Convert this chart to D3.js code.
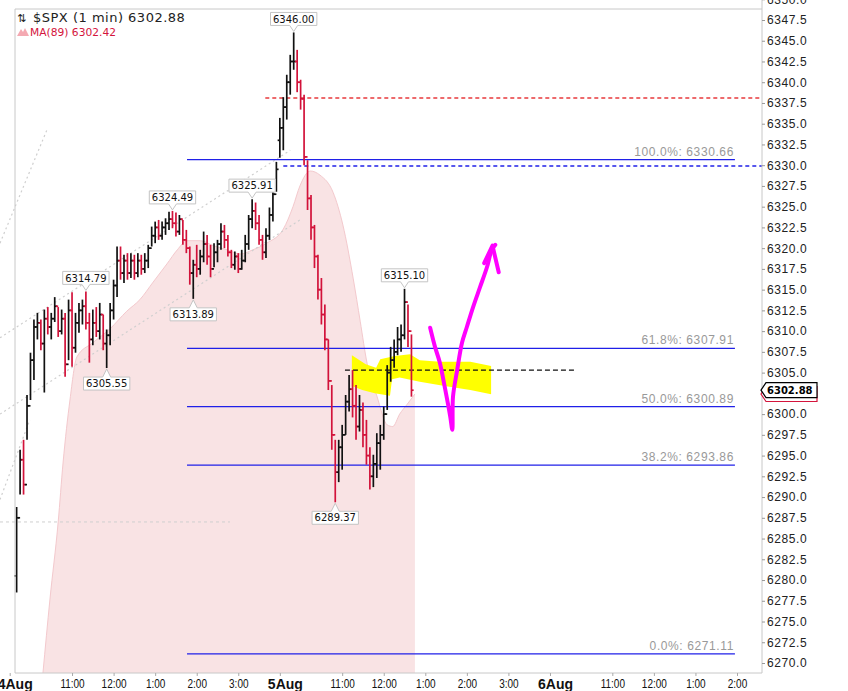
<!DOCTYPE html>
<html>
<head>
<meta charset="utf-8">
<script src="https://d3js.org/d3.v7.min.js"></script>
<style>
body { margin: 0; background: #fff; }
svg { display: block; font-family: "Liberation Sans", Arial, sans-serif; }
.ylab { font-size: 12px; letter-spacing: 0.6px; fill: #222; }
.fib-label { font-size: 12px; letter-spacing: 0.6px; fill: #999; text-anchor: end; }
.hl-label { font-family: "DejaVu Sans", sans-serif; font-size: 10px; fill: #111; text-anchor: middle; }
</style>
</head>
<body>
<script>
// time = trading minutes after 9:30 on 4 Aug (390 per session), 5 minute bars
var day1Start = 10, day2Start = 390, barStep = 5;
var dayOpen = [6280.5, 6333.0];

var day1High = [6288.8, 6295.7, 6296.9, 6302.3, 6307.4, 6311.4, 6312.2, 6311.4, 6312.6, 6312.9,
  6312.2, 6314.1, 6312.9, 6312.6, 6312.2, 6313.8, 6314.7, 6312.2, 6313.4, 6313.8,
  6314.79, 6312.2, 6312.6, 6312.9, 6313.4, 6312.0, 6310.2, 6313.4, 6316.2, 6320.2,
  6320.2, 6319.2, 6319.4, 6319.4, 6319.2, 6319.4, 6319.2, 6319.4, 6320.4, 6322.6,
  6323.2, 6323.4, 6323.2, 6323.6, 6324.4, 6324.49, 6324.3, 6324.0, 6323.4, 6322.2,
  6320.2, 6318.6, 6320.4, 6319.8, 6322.0, 6321.6, 6320.4, 6320.6, 6321.0, 6323.0,
  6322.8, 6321.6, 6319.8, 6319.6, 6319.4, 6319.8, 6321.6, 6324.0, 6325.91, 6325.5,
  6324.0, 6321.6, 6322.4, 6324.9, 6327.6, 6330.4];
var day1Low = [6278.5, 6290.3, 6290.3, 6296.9, 6301.7, 6304.1, 6309.0, 6307.7, 6302.6, 6309.6,
  6309.0, 6311.1, 6309.3, 6309.6, 6304.5, 6306.5, 6305.7, 6307.4, 6309.8, 6310.8,
  6310.2, 6306.2, 6308.3, 6309.3, 6309.0, 6307.7, 6305.55, 6308.3, 6311.4, 6314.1,
  6316.2, 6315.8, 6316.2, 6316.4, 6316.2, 6316.5, 6316.8, 6317.0, 6317.6, 6320.2,
  6320.6, 6321.0, 6321.0, 6321.6, 6322.2, 6322.4, 6321.4, 6321.6, 6320.4, 6319.4,
  6315.6, 6313.89, 6316.5, 6316.8, 6318.3, 6318.0, 6316.5, 6317.7, 6318.3, 6319.8,
  6320.0, 6319.0, 6317.6, 6317.4, 6317.0, 6317.4, 6318.3, 6319.8, 6322.4, 6322.2,
  6320.4, 6318.6, 6318.8, 6321.0, 6323.2, 6326.8];
var day1Close = [6287.5, 6294.5, 6291.5, 6301.0, 6306.5, 6310.5, 6311.0, 6308.5, 6311.5, 6310.5,
  6311.5, 6313.0, 6310.0, 6311.5, 6306.0, 6312.5, 6308.0, 6311.0, 6312.5, 6313.0,
  6311.0, 6309.0, 6311.0, 6310.0, 6312.0, 6308.5, 6309.5, 6312.5, 6315.5, 6318.5,
  6317.0, 6318.5, 6317.0, 6318.5, 6317.0, 6318.5, 6317.5, 6318.5, 6320.0, 6321.5,
  6322.5, 6321.5, 6322.5, 6323.0, 6323.5, 6323.0, 6322.0, 6323.5, 6321.0, 6320.0,
  6317.0, 6318.0, 6317.5, 6319.0, 6320.5, 6319.0, 6317.5, 6319.5, 6320.5, 6322.0,
  6321.0, 6319.5, 6318.0, 6319.0, 6317.5, 6318.5, 6320.5, 6323.5, 6324.5, 6323.0,
  6321.0, 6319.5, 6321.5, 6324.0, 6326.5, 6329.5];

var day2High = [6335.7, 6338.2, 6340.9, 6343.3, 6346.00, 6343.9, 6340.3, 6338.5, 6330.6, 6326.4,
  6322.8, 6319.2, 6316.4, 6313.2, 6309.0, 6303.5, 6296.9, 6296.9, 6298.7, 6302.3,
  6304.7, 6305.3, 6303.5, 6302.3, 6301.4, 6299.3, 6296.0, 6295.1, 6297.7, 6298.7,
  6300.9, 6305.9, 6308.1, 6309.0, 6310.5, 6310.8, 6315.10, 6313.2, 6309.6];
var day2Low = [6330.9, 6331.8, 6335.5, 6338.5, 6341.5, 6338.8, 6336.7, 6330.0, 6324.6, 6321.0,
  6317.6, 6313.8, 6310.8, 6307.7, 6302.9, 6295.7, 6289.37, 6291.8, 6293.3, 6297.5,
  6300.3, 6299.6, 6296.9, 6297.9, 6296.0, 6293.9, 6290.9, 6291.2, 6292.3, 6293.3,
  6296.9, 6300.5, 6303.9, 6305.6, 6307.1, 6307.5, 6309.0, 6308.1, 6302.1];
var day2Close = [6334.5, 6337.0, 6340.0, 6342.5, 6342.5, 6340.0, 6338.0, 6331.0, 6326.0, 6322.5,
  6319.0, 6315.0, 6312.0, 6309.0, 6304.0, 6297.5, 6293.0, 6296.0, 6297.5, 6301.5,
  6303.0, 6301.0, 6298.5, 6300.5, 6297.5, 6295.0, 6292.5, 6294.0, 6296.5, 6297.5,
  6300.0, 6305.0, 6306.5, 6307.5, 6309.0, 6309.5, 6313.5, 6310.0, 6302.88];

// MA(89)
var maTimes = [48, 58, 70, 77, 87, 97, 120, 145, 169, 188, 207, 227, 242, 256, 275, 294, 314, 333,
  351, 371, 395, 409, 419, 434, 448, 467, 481, 496, 506, 516, 530, 545, 553, 563, 574, 585];
var maValues = [6268.8, 6277.6, 6287.0, 6294.1, 6301.7, 6306.9, 6308.6, 6310.3, 6312.4, 6313.8,
  6315.9, 6318.1, 6319.8, 6320.9, 6320.9, 6320.3, 6319.8, 6319.3, 6319.8, 6320.6, 6322.3, 6325.0,
  6327.5, 6329.3, 6328.8, 6326.7, 6322.8, 6316.3, 6311.2, 6306.1, 6302.2, 6298.7, 6298.5, 6300.0,
  6301.2, 6302.42];

var fibNames = ["100.0%", "61.8%", "50.0%", "38.2%", "0.0%"];
var fibValues = [6330.66, 6307.91, 6300.89, 6293.86, 6271.11];
var fibFrom = 256, fibTo = 1047;

var peakTimes = [110, 140, 235, 265, 350, 410, 470, 570];
var peakPrices = [6314.79, 6305.55, 6324.49, 6313.89, 6325.91, 6346.00, 6289.37, 6315.10];
var peakSide = ["high", "low", "high", "low", "high", "high", "low", "high"];

var xTickTimes = [0, 90, 150, 210, 270, 330, 390, 480, 540, 600, 660, 720, 780, 870, 930, 990, 1050];
var xTickLabels = ["4Aug", "11:00", "12:00", "1:00", "2:00", "3:00", "5Aug", "11:00", "12:00", "1:00",
  "2:00", "3:00", "6Aug", "11:00", "12:00", "1:00", "2:00"];

// hand drawn annotations, in [time, price]
var dottedLines = [[[-14, 6320.6], [54, 6334.3]], [[-14, 6309.2], [405, 6331.8]],
  [[-14, 6300.0], [419, 6323.4]], [[-14, 6289.7], [29, 6299.3]]];
var grayDash = [[-14, 6287.0], [318, 6287.0]];
var redDash = [[369, 6338.1], [1090, 6338.1]];
var blueDash = [[395, 6329.9], [1090, 6329.9]];
var blackDash = [[484, 6305.3], [816, 6305.3]];
var highlightT = [494, 514, 529, 535, 556, 578, 592, 621, 665, 695, 695, 665, 628, 592, 563, 552, 549, 527, 509, 494];
var highlightP = [6307.1, 6306.0, 6305.6, 6306.6, 6307.0, 6307.2, 6306.5, 6306.3, 6306.3, 6305.8,
  6302.4, 6302.9, 6303.4, 6303.9, 6304.4, 6304.2, 6302.2, 6302.5, 6302.9, 6303.4];
var magentaT = [607, 614, 621, 628, 636, 639, 640, 646, 653, 660, 669, 679, 689, 696, 701];
var magentaP = [6310.4, 6308.1, 6306.2, 6303.3, 6299.7, 6298.1, 6302.1, 6305.3, 6308.6, 6310.5,
  6312.9, 6315.3, 6317.7, 6319.8, 6320.4];
var arrowT = [685, 697, 706];
var arrowP = [6318.2, 6320.3, 6317.1];

var lastPrice = 6302.88, lastMA = 6302.42;

var W = 848, H = 691;
var plotLeft = 15, plotRight = 762, plotTop = 9, plotBottom = 673;

var x = d3.scaleLinear().domain([0, 1050]).range([9.7, 737]);
var y = d3.scaleLinear().domain([6270, 6347.5]).range([663, 20]);

var svg = d3.select("body").append("svg").attr("width", W).attr("height", H);

svg.append("clipPath").attr("id", "plot")
  .append("rect").attr("x", 0).attr("y", plotTop)
  .attr("width", plotRight).attr("height", plotBottom - plotTop);

var plot = svg.append("g").attr("clip-path", "url(#plot)");

// MA area
var maData = maTimes.map(function(t, i) { return [t, maValues[i]]; });
plot.append("path").datum(maData)
  .attr("d", d3.area().curve(d3.curveMonotoneX)
    .x(function(d) { return x(d[0]); }).y0(plotBottom).y1(function(d) { return y(d[1]); }))
  .attr("fill", "#f9e3e4");
plot.append("path").datum(maData)
  .attr("d", d3.line().curve(d3.curveMonotoneX)
    .x(function(d) { return x(d[0]); }).y(function(d) { return y(d[1]); }))
  .attr("fill", "none").attr("stroke", "#f3c9cd").attr("stroke-width", 1);

var seg = d3.line().x(function(d) { return x(d[0]); }).y(function(d) { return y(d[1]); });

// trend lines
plot.selectAll("path.dot").data(dottedLines).join("path").attr("class", "dot")
  .attr("d", seg).attr("stroke", "#cfcfcf").attr("stroke-width", 1.2)
  .attr("stroke-dasharray", "2,3").attr("fill", "none");
plot.append("path").attr("d", seg(grayDash)).attr("stroke", "#cfcfcf")
  .attr("stroke-dasharray", "3,3").attr("fill", "none");

// yellow marker
plot.append("path")
  .attr("d", seg(highlightT.map(function(t, i) { return [t, highlightP[i]]; })) + "Z")
  .attr("fill", "#ffff00");

// fib lines
fibValues.forEach(function(v, i) {
  plot.append("line").attr("x1", x(fibFrom)).attr("x2", x(fibTo))
    .attr("y1", y(v)).attr("y2", y(v)).attr("stroke", "#2020e8").attr("stroke-width", 1.3);
  plot.append("text").attr("class", "fib-label").attr("x", x(fibTo) - 1).attr("y", y(v) - 4)
    .text(fibNames[i] + ": " + v.toFixed(2));
});

plot.append("path").attr("d", seg(redDash)).attr("stroke", "#e83a3c").attr("stroke-width", 1.3)
  .attr("stroke-dasharray", "4,3").attr("fill", "none");
plot.append("path").attr("d", seg(blueDash)).attr("stroke", "#2020e8").attr("stroke-width", 1.3)
  .attr("stroke-dasharray", "4,3").attr("fill", "none");
plot.append("path").attr("d", seg(blackDash)).attr("stroke", "#111").attr("stroke-width", 1.2)
  .attr("stroke-dasharray", "5,3").attr("fill", "none");

// bars
var bars = [];
function addDay(start, open, hi, lo, cl) {
  hi.forEach(function(h, i) {
    bars.push({ t: start + i * barStep, o: i ? cl[i - 1] : open, h: h, l: lo[i], c: cl[i] });
  });
}
addDay(day1Start, dayOpen[0], day1High, day1Low, day1Close);
addDay(day2Start, dayOpen[1], day2High, day2Low, day2Close);
bars.forEach(function(b, i) { b.up = b.c >= (i ? bars[i - 1].c : b.o); });

var barG = plot.selectAll("g.bar").data(bars).join("g").attr("class", "bar")
  .attr("stroke", function(d) { return d.up ? "#111" : "#d2123a"; })
  .attr("stroke-width", 1.7);
barG.append("line")
  .attr("x1", function(d) { return x(d.t); }).attr("x2", function(d) { return x(d.t); })
  .attr("y1", function(d) { return y(d.h); }).attr("y2", function(d) { return y(d.l); });
barG.append("line")
  .attr("x1", function(d) { return x(d.t) - 2.2; }).attr("x2", function(d) { return x(d.t); })
  .attr("y1", function(d) { return y(d.o); }).attr("y2", function(d) { return y(d.o); });
barG.append("line")
  .attr("x1", function(d) { return x(d.t); }).attr("x2", function(d) { return x(d.t) + 2.2; })
  .attr("y1", function(d) { return y(d.c); }).attr("y2", function(d) { return y(d.c); });

// magenta arrow
plot.append("path")
  .attr("d", d3.line().curve(d3.curveCatmullRom)
    .x(function(d) { return x(d[0]); }).y(function(d) { return y(d[1]); })
    (magentaT.map(function(t, i) { return [t, magentaP[i]]; })))
  .attr("fill", "none").attr("stroke", "#ff00ff").attr("stroke-width", 4)
  .attr("stroke-linecap", "round").attr("stroke-linejoin", "round");
plot.append("path")
  .attr("d", seg(arrowT.map(function(t, i) { return [t, arrowP[i]]; })))
  .attr("fill", "none").attr("stroke", "#ff00ff").attr("stroke-width", 4)
  .attr("stroke-linecap", "round").attr("stroke-linejoin", "round");

// peak / trough labels
peakPrices.forEach(function(p, i) {
  var cx = x(peakTimes[i]), py = y(p), txt = p.toFixed(2);
  var t = svg.append("text").attr("class", "hl-label").attr("x", cx).text(txt);
  var w = t.node().getComputedTextLength() + 5, h = 13, top0, d;
  if (peakSide[i] === "high") {
    var yb = py - 7; top0 = yb - h;
    d = "M" + (cx - w / 2) + "," + top0 + "H" + (cx + w / 2) + "V" + yb + "H" + (cx + 4) +
      "L" + cx + "," + (py - 1) + "L" + (cx - 4) + "," + yb + "H" + (cx - w / 2) + "Z";
  } else {
    top0 = py + 9;
    d = "M" + (cx - w / 2) + "," + top0 + "H" + (cx - 4) + "L" + cx + "," + (py + 1) +
      "L" + (cx + 4) + "," + top0 + "H" + (cx + w / 2) + "V" + (top0 + h) + "H" + (cx - w / 2) + "Z";
  }
  svg.insert("path", function() { return t.node(); }).attr("d", d)
    .attr("fill", "#fff").attr("stroke", "#c4c4c4").attr("stroke-width", 1);
  t.attr("y", top0 + 10.2);
});

// frame
svg.append("line").attr("x1", plotLeft).attr("x2", plotRight).attr("y1", plotTop).attr("y2", plotTop).attr("stroke", "#c8c8c8");
svg.append("line").attr("x1", plotLeft).attr("x2", plotLeft).attr("y1", plotTop).attr("y2", plotBottom).attr("stroke", "#c8c8c8");
svg.append("line").attr("x1", plotLeft).attr("x2", plotRight).attr("y1", plotBottom).attr("y2", plotBottom).attr("stroke", "#c8c8c8");
svg.append("line").attr("x1", plotRight).attr("x2", plotRight).attr("y1", 0).attr("y2", plotBottom).attr("stroke", "#c8c8c8");

// y axis (the tick hidden under the last price tag is left out)
var yTicks = d3.range(6270, 6350.1, 2.5).filter(function(v) { return Math.abs(v - lastPrice) > 1; });
var yAxis = d3.axisRight(y).tickValues(yTicks)
  .tickFormat(d3.format(".1f")).tickSize(3).tickPadding(2);
svg.append("g").attr("transform", "translate(" + plotRight + ",0)").call(yAxis)
  .call(function(g) { g.select(".domain").remove(); })
  .call(function(g) { g.selectAll(".tick line").attr("stroke", "#999"); })
  .call(function(g) { g.selectAll(".tick text").attr("class", "ylab"); });

// x axis
var xAxis = d3.axisBottom(x).tickValues(xTickTimes)
  .tickFormat(function(d, i) { return xTickLabels[i]; }).tickSize(3).tickPadding(3);
var xg = svg.append("g").attr("transform", "translate(0," + plotBottom + ")").call(xAxis);
xg.select(".domain").remove();
xg.selectAll(".tick line").attr("stroke", "#aaa");
xg.selectAll(".tick text").each(function(d, i) {
  var s = d3.select(this).attr("fill", "#111");
  if (/Aug/.test(xTickLabels[i])) {
    s.style("font-size", "14px").style("font-weight", "bold").attr("dx", 5);
  } else {
    s.style("font-size", "13px").attr("transform", "scale(0.77,1)");
  }
});

// last value markers
function marker(v, col) {
  var my = y(v);
  svg.append("path")
    .attr("d", "M" + (plotRight - 1) + "," + my + "L" + (plotRight + 4) + "," + (my - 7.5) + "H817V" + (my + 7.5) +
      "H" + (plotRight + 4) + "Z")
    .attr("fill", "#fff").attr("stroke", col).attr("stroke-width", 1.2);
}
marker(lastMA, "#d4143c");
marker(lastPrice, "#000");
svg.append("text").attr("x", plotRight + 5).attr("y", y(lastPrice) + 3.8)
  .style("font-family", "DejaVu Sans").style("font-weight", "bold").style("font-size", "10px")
  .attr("fill", "#000").text(lastPrice.toFixed(2));

// legend
var title = svg.append("text").attr("x", 17).attr("y", 21.5)
  .style("font-family", "DejaVu Sans").attr("fill", "#222");
title.append("tspan").style("font-size", "11px").text("⇅");
title.append("tspan").attr("x", 33).style("font-size", "13px").style("letter-spacing", "0.5px")
  .text("$SPX (1 min) " + lastPrice.toFixed(2));
svg.append("path").attr("d", "M17,36L21,29L23,32L25,28L29,36Z").attr("fill", "#f4a9b2");
svg.append("text").attr("x", 30).attr("y", 35.5)
  .style("font-family", "DejaVu Sans").style("font-size", "10.7px").attr("fill", "#d4143c")
  .text("MA(89) " + lastMA.toFixed(2));
</script>
</body>
</html>
